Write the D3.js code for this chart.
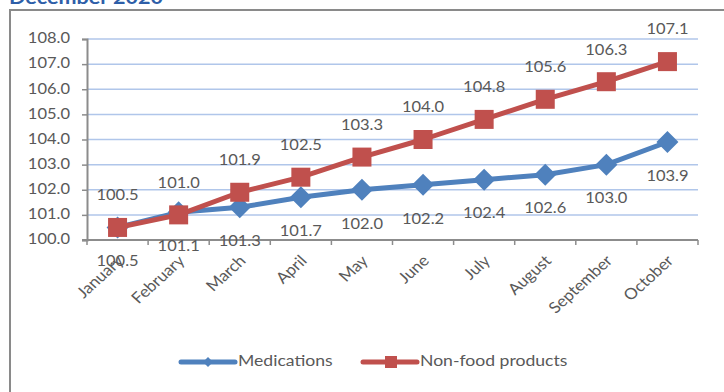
<!DOCTYPE html>
<html>
<head>
<meta charset="utf-8">
<script src="https://cdn.jsdelivr.net/npm/d3@7"></script>
<style>
  html, body { margin: 0; padding: 0; background: #fff; }
  svg { display: block; }
  text { font-family: Lato, "Open Sans", sans-serif; }
</style>
</head>
<body>
<svg id="chart" width="724" height="392"></svg>
<script>
// Price indices by month (previous December = 100)
const months = ["January", "February", "March", "April", "May", "June",
                "July", "August", "September", "October"];
const medications = [100.5, 101.1, 101.3, 101.7, 102.0, 102.2, 102.4, 102.6, 103.0, 103.9];
const nonFood = [100.5, 101.0, 101.9, 102.5, 103.3, 104.0, 104.8, 105.6, 106.3, 107.1];
const yTicks = [100, 101, 102, 103, 104, 105, 106, 107, 108];
const seriesNames = ["Medications", "Non-food products"];

const BLUE = "#4f81bd", RED = "#c0504d", TEXT = "#595959", AXIS = "#8c8c8c", GRID = "#b0c6ea";
const SX = 1.1; // slight horizontal widening of the text glyphs

const svg = d3.select("#chart");
const fmt = d3.format(".1f");

// Places a text at (x, y) with the horizontal widening applied
const place = (x, y) => `translate(${x},${y}) scale(${SX},1)`;

// Title (partly above the visible area)
svg.append("text")
  .attr("x", 9).attr("y", 4)
  .attr("textLength", 154).attr("lengthAdjust", "spacingAndGlyphs")
  .attr("font-size", 18).attr("font-weight", "bold")
  .attr("fill", "#2e5ea8")
  .text("December 2020");

// Chart frame
svg.append("rect")
  .attr("x", 10).attr("y", 10).attr("width", 730).attr("height", 400)
  .attr("fill", "none").attr("stroke", "#8a8a8a").attr("stroke-width", 2);

const x = d3.scaleBand().domain(months).range([87, 698]);
const y = d3.scaleLinear().domain([100, 108]).range([240, 39]);
const cx = d => x(d) + x.bandwidth() / 2;

// Horizontal gridlines
svg.append("g").selectAll("line")
  .data(yTicks.filter(t => t > 100))
  .join("line")
  .attr("x1", x.range()[0]).attr("x2", x.range()[1])
  .attr("y1", d => y(d)).attr("y2", d => y(d))
  .attr("stroke", GRID).attr("stroke-width", 1.5);

// Y axis
const yAxis = svg.append("g")
  .attr("transform", `translate(${x.range()[0]},0)`)
  .call(d3.axisLeft(y).tickValues(yTicks).tickFormat(fmt).tickSize(5).tickPadding(0));
yAxis.select(".domain").attr("stroke", AXIS).attr("stroke-width", 2);
yAxis.selectAll(".tick line").attr("stroke", AXIS).attr("stroke-width", 1.5);
yAxis.selectAll(".tick text")
  .attr("x", null).attr("dy", null)
  .attr("transform", place(-17, 0))
  .attr("dominant-baseline", "middle")
  .attr("fill", TEXT).attr("font-size", 15)
  .attr("font-family", "Lato, 'Open Sans', sans-serif");

// X axis line and boundary ticks
const xg = svg.append("g");
xg.append("line")
  .attr("x1", x.range()[0] - 5).attr("x2", x.range()[1])
  .attr("y1", y(100)).attr("y2", y(100))
  .attr("stroke", AXIS).attr("stroke-width", 2);
const bounds = months.map(m => x(m)).concat([x.range()[1]]);
xg.selectAll("line.tk").data(bounds).join("line").attr("class", "tk")
  .attr("x1", d => d).attr("x2", d => d)
  .attr("y1", y(100)).attr("y2", y(100) + 5)
  .attr("stroke", AXIS).attr("stroke-width", 1.5);

// Rotated category labels
xg.selectAll("text").data(months).join("text")
  .attr("transform", d => `translate(${cx(d) + 4},${y(100) + 19}) scale(${SX},1) rotate(-45)`)
  .attr("text-anchor", "end")
  .attr("dominant-baseline", "middle")
  .attr("font-size", 15.5).attr("fill", TEXT)
  .text(d => d);

// Lines
const line = d3.line().x((d, i) => cx(months[i])).y(d => y(d));

function diamond(sel, r) {
  return sel.attr("d", `M0,${-r}L${r},0L0,${r}L${-r},0Z`);
}

// Medications (drawn first, underneath)
svg.append("path").datum(medications)
  .attr("d", line).attr("fill", "none")
  .attr("stroke", BLUE).attr("stroke-width", 5).attr("stroke-linejoin", "round");
svg.append("g").selectAll("path").data(medications).join("path")
  .attr("transform", (d, i) => `translate(${cx(months[i])},${y(d)})`)
  .call(diamond, 11)
  .attr("fill", BLUE);

// Non-food products
svg.append("path").datum(nonFood)
  .attr("d", line).attr("fill", "none")
  .attr("stroke", RED).attr("stroke-width", 5).attr("stroke-linejoin", "round");
svg.append("g").selectAll("rect").data(nonFood).join("rect")
  .attr("x", (d, i) => cx(months[i]) - 9.5)
  .attr("y", d => y(d) - 9.5)
  .attr("width", 19).attr("height", 19)
  .attr("fill", RED);

// Data labels
svg.append("g").selectAll("text").data(nonFood).join("text")
  .attr("transform", (d, i) => place(cx(months[i]), y(d) - 31))
  .attr("text-anchor", "middle").attr("dominant-baseline", "middle")
  .attr("font-size", 15).attr("fill", TEXT)
  .text(d => fmt(d));

svg.append("g").selectAll("text").data(medications).join("text")
  .attr("transform", (d, i) => place(cx(months[i]), y(d) + 35))
  .attr("text-anchor", "middle").attr("dominant-baseline", "middle")
  .attr("font-size", 15).attr("fill", TEXT)
  .text(d => fmt(d));

// Legend
const legend = svg.append("g");
const items = [
  { name: seriesNames[0], color: BLUE, x0: 181, shape: "diamond" },
  { name: seriesNames[1], color: RED, x0: 363, shape: "square" }
];
const ly = 362;
items.forEach(it => {
  legend.append("line")
    .attr("x1", it.x0).attr("x2", it.x0 + 54)
    .attr("y1", ly).attr("y2", ly)
    .attr("stroke", it.color).attr("stroke-width", 5).attr("stroke-linecap", "round");
  if (it.shape === "diamond") {
    legend.append("path").attr("transform", `translate(${it.x0 + 27},${ly})`)
      .call(diamond, 5).attr("fill", it.color);
  } else {
    legend.append("rect").attr("x", it.x0 + 22).attr("y", ly - 6)
      .attr("width", 12).attr("height", 12).attr("fill", it.color);
  }
  legend.append("text")
    .attr("transform", place(it.x0 + 57, ly))
    .attr("dominant-baseline", "middle")
    .attr("font-size", 16).attr("fill", TEXT)
    .text(it.name);
});
</script>
</body>
</html>
